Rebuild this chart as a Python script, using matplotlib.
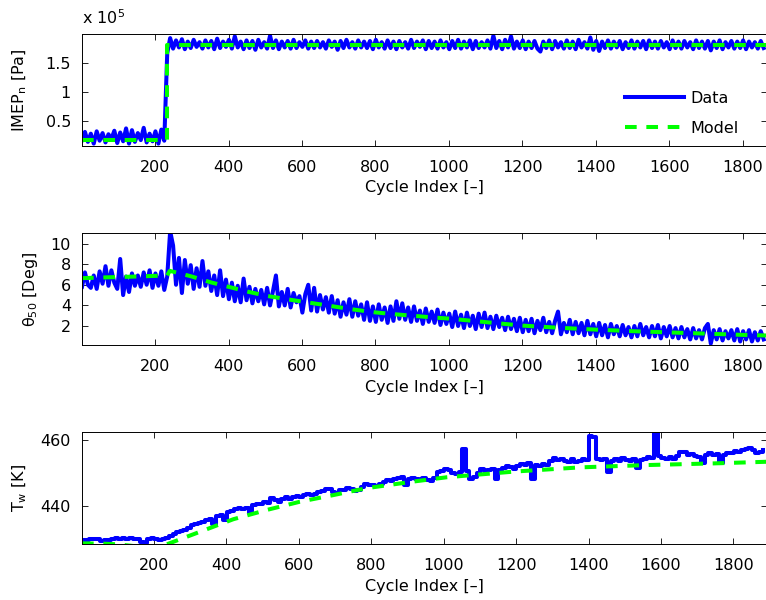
import matplotlib

matplotlib.use("Agg")
import matplotlib.pyplot as plt
import numpy as np
from matplotlib.ticker import FixedLocator, FuncFormatter

plt.rcParams["font.family"] = ["DejaVu Sans"]
plt.rcParams["mathtext.fontset"] = "dejavusans"
plt.rcParams["font.size"] = 11.5

# --- measured signals -------------------------------------------------------
# IMEP_n and theta_50 are logged every 8th cycle, starting at cycle 1
IMEP_STEP = 8
imep_data = [  # [1e5 Pa]
    0.18, 0.32, 0.15, 0.29, 0.12, 0.33, 0.17, 0.30, 0.14, 0.28, 0.20, 0.34, 0.13, 0.31, 0.16,
    0.38, 0.12, 0.35, 0.15, 0.30, 0.18, 0.39, 0.14, 0.29, 0.16, 0.33, 0.12, 0.36, 0.17,
    1.66, 1.92, 1.74, 1.88, 1.76, 1.90, 1.73, 1.86, 1.75, 1.89, 1.77, 1.85, 1.74, 1.88, 1.76,
    1.87, 1.73, 1.91, 1.75, 1.86, 1.77, 1.89, 1.74, 1.95, 1.76,
    1.86, 1.73, 1.88, 1.75, 1.87, 1.72, 1.89, 1.76, 1.85, 1.74, 1.96, 1.75, 1.88, 1.73, 1.86,
    1.76, 1.87, 1.74, 1.89, 1.75, 1.85, 1.77, 1.88, 1.74, 1.86,
    1.75, 1.87, 1.76, 1.85, 1.74, 1.88, 1.77, 1.86, 1.72, 1.87, 1.75, 1.89, 1.76, 1.85, 1.74,
    1.88, 1.76, 1.86, 1.75, 1.87, 1.73, 1.89, 1.76, 1.85, 1.74,
    1.88, 1.75, 1.86, 1.73, 1.87, 1.76, 1.85, 1.74, 1.89, 1.75, 1.86, 1.77, 1.88, 1.73, 1.87,
    1.75, 1.86, 1.74, 1.88, 1.76, 1.85, 1.73, 1.87, 1.75, 1.89,
    1.74, 1.86, 1.76, 1.88, 1.73, 1.87, 1.75, 1.85, 1.76, 1.88, 1.74, 1.96, 1.75, 1.87, 1.73,
    1.89, 1.76, 1.95, 1.74, 1.86, 1.75, 1.88, 1.73, 1.86, 1.75,
    1.87, 1.74, 1.69, 1.86, 1.75, 1.88, 1.73, 1.87, 1.76, 1.85, 1.74, 1.88, 1.75, 1.86, 1.73,
    1.89, 1.76, 1.85, 1.74, 1.93, 1.72, 1.87, 1.70, 1.86, 1.75,
    1.88, 1.74, 1.86, 1.76, 1.87, 1.73, 1.85, 1.75, 1.88, 1.74, 1.86, 1.76, 1.87, 1.73, 1.88,
    1.75, 1.86, 1.74, 1.87, 1.76, 1.85, 1.73, 1.88, 1.75, 1.86,
    1.74, 1.87, 1.76, 1.85, 1.73, 1.88, 1.75, 1.86, 1.74, 1.87, 1.71, 1.86, 1.75, 1.88, 1.73,
    1.85, 1.76, 1.87, 1.74, 1.86, 1.75, 1.88, 1.73, 1.86, 1.76, 1.85, 1.74, 1.87, 1.75,
]

theta_data = [  # [deg]
    5.8, 7.2, 6.0, 5.7, 6.9, 5.6, 7.3, 6.1, 7.8, 5.9, 7.4, 6.2, 5.6, 8.5, 5.0, 6.8, 5.3, 7.1,
    5.9, 6.9, 5.8, 7.2, 6.0, 7.4, 5.7,
    7.1, 5.9, 7.3, 5.5, 6.8, 11.2, 9.8, 6.0, 8.6, 5.2, 8.4, 6.1, 7.9, 5.6, 7.6, 5.8, 8.3, 5.9,
    7.3, 5.4, 6.9, 5.0, 7.4, 4.9, 6.5,
    4.6, 6.2, 4.4, 5.9, 4.3, 6.6, 4.5, 5.8, 4.2, 5.6, 4.4, 5.5, 4.1, 5.7, 4.0, 5.4, 6.9, 3.9,
    5.3, 4.0, 5.6, 3.8, 5.2, 4.3, 4.9,
    3.3, 5.1, 6.0, 3.5, 5.7, 3.4, 5.0, 3.6, 4.8, 3.3, 4.9, 3.2, 4.5, 2.9, 4.3, 3.1, 4.6, 2.9,
    4.4, 3.0, 4.1, 2.6, 4.3, 2.5, 3.9,
    2.4, 4.1, 2.6, 3.8, 2.3, 3.9, 2.5, 4.4, 2.7, 4.2, 2.6, 3.8, 2.4, 3.9, 2.5, 3.5, 2.2, 3.7,
    2.4, 3.4, 2.3, 3.6, 2.1, 3.3, 2.2,
    3.2, 1.9, 3.4, 2.0, 3.1, 1.8, 3.3, 2.0, 3.0, 1.7, 3.2, 1.9, 3.3, 1.8, 2.9, 1.7, 3.0, 1.9,
    2.8, 1.6, 2.9, 1.7, 2.7, 1.5, 2.8,
    1.4, 2.6, 1.5, 2.7, 1.3, 2.5, 1.6, 2.8, 1.4, 2.4, 1.3, 2.5, 3.4, 1.2, 2.3, 1.4, 2.6, 1.2,
    2.4, 1.3, 2.3, 1.1, 2.5, 1.2, 2.2,
    1.0, 2.3, 1.1, 2.1, 0.9, 2.2, 1.2, 2.0, 1.0, 2.1, 1.1, 1.9, 0.9, 2.0, 1.0, 2.2, 1.1, 1.9,
    0.9, 2.0, 1.0, 2.1, 0.8, 1.9, 1.0,
    2.0, 0.9, 1.8, 0.8, 1.9, 0.9, 1.7, 0.7, 1.8, 0.8, 1.6, 0.7, 1.8, 2.2, 0.3, 1.6, 0.7, 1.7,
    0.6, 1.5, 0.8, 1.6, 0.6, 1.7, 0.5, 1.5, 0.7, 1.6, 0.5, 1.4, 0.6, 1.5, 0.7,
]

# wall temperature is logged every 10th cycle, held between samples
TW_STEP = 10
tw_data = [  # [K]
    429.8, 429.8, 430.0, 430.2, 430.0, 429.6, 429.7, 429.9, 430.1, 430.3,
    430.1, 430.4, 430.2, 430.3, 430.0, 430.1, 429.3, 428.9, 430.2, 430.5,
    430.2, 429.8, 430.0, 430.4, 431.0, 431.6, 432.3, 432.6, 432.8, 433.5,
    434.2, 434.6, 435.1, 435.4, 435.8, 436.3, 434.8, 437.0, 437.5, 435.9,
    438.2, 438.6, 439.3, 439.4, 439.2, 439.5, 438.0, 440.3, 440.8, 440.6,
    441.2, 441.0, 442.6, 441.8, 441.4, 442.3, 442.8, 442.2, 442.9, 443.2,
    442.8, 443.3, 443.6, 443.4, 443.8, 444.2, 444.6, 445.4, 445.1, 444.3,
    444.0, 444.8, 445.0, 445.6, 445.2, 444.5, 444.9, 445.8, 446.7, 446.4,
    446.5, 446.2, 446.8, 447.3, 448.0, 447.8, 448.2, 448.7, 448.9, 446.6,
    448.3, 448.5, 448.4, 448.1, 448.6, 447.9, 447.7, 448.6, 450.4, 450.8,
    451.3, 451.0, 450.2, 449.9, 450.3, 457.3, 450.6, 448.4, 448.9, 450.1,
    451.2, 450.8, 451.0, 451.3, 448.3, 451.0, 451.6, 452.2, 451.8, 451.3,
    452.2, 452.9, 452.5, 453.1, 448.3, 452.6, 452.3, 452.9, 452.6, 453.8,
    454.5, 454.0, 454.3, 453.6, 453.5, 454.2, 453.4, 453.8, 454.2, 454.0,
    461.3, 461.0, 454.4, 453.9, 454.3, 450.4, 453.8, 454.2, 453.6, 454.5,
    454.0, 453.8, 454.4, 451.6, 453.9, 454.3, 455.0, 454.6, 466.0, 455.3,
    454.6, 454.2, 454.8, 454.4, 455.2, 456.6, 456.4, 455.6, 455.9, 455.3,
    454.8, 453.0, 455.6, 456.0, 455.4, 455.8, 453.2, 455.5, 456.2, 456.0,
    456.9, 456.5, 457.1, 457.4, 457.6, 457.0, 456.3, 456.6, 457.0,
]

# --- model outputs ----------------------------------------------------------
imep_model_cycle = [1, 233, 233, 1866]
imep_model = [0.18, 0.18, 1.80, 1.80]  # [1e5 Pa]

theta_model_cycle = [1, 50, 100, 150, 200, 233, 240, 300, 350, 400, 450, 500, 550, 600, 650,
                     700, 750, 800, 850, 900, 950, 1000, 1100, 1200, 1300, 1400, 1500, 1600,
                     1700, 1800, 1866]
theta_model = [6.64, 6.70, 6.75, 6.80, 6.86, 6.90, 7.35, 6.80, 6.25, 5.80, 5.35, 4.95, 4.65,
               4.37, 4.10, 3.82, 3.55, 3.32, 3.15, 3.00, 2.85, 2.72, 2.38, 2.04, 1.83, 1.65,
               1.50, 1.38, 1.26, 1.14, 1.08]

tw_model_cycle = [1, 60, 100, 150, 190, 235, 327, 419, 511, 603, 695, 787, 916, 1008, 1192,
                  1377, 1561, 1745, 1893]
tw_model = [428.8, 428.7, 428.5, 427.9, 427.7, 428.5, 432.3, 436.1, 438.9, 441.4, 443.4,
            445.5, 447.5, 448.8, 450.5, 451.8, 452.5, 453.0, 453.5]

XTICKS = [200, 400, 600, 800, 1000, 1200, 1400, 1600, 1800]

DATA_STYLE = dict(color=(0, 0, 1), linewidth=2.9, solid_joinstyle="round")
MODEL_STYLE = dict(color=(0, 1, 0), linewidth=2.9, linestyle=(0, (2.9, 2.4)))


def style_axes(ax):
    ax.tick_params(direction="in", top=True, right=True, length=4.3, width=0.6,
                   labelsize=11.5, pad=10)
    for side in ax.spines.values():
        side.set_linewidth(0.7)
    ax.xaxis.set_major_locator(FixedLocator(XTICKS))
    ax.set_xlabel("Cycle Index [\u2013]", fontsize=11.5, labelpad=4)


fig = plt.figure(figsize=(7.66, 6.0), dpi=100)
left, width = 82 / 766, 685 / 766
ax1 = fig.add_axes([left, 0.7567, width, 0.1867])
ax2 = fig.add_axes([left, 0.4245, width, 0.1877])
ax3 = fig.add_axes([left, 0.0928, width, 0.1877])

# IMEP_n
cyc = np.arange(len(imep_data)) * IMEP_STEP + 1
ax1.plot(cyc, np.array(imep_data) * 1e5, label="Data", **DATA_STYLE)
ax1.plot(imep_model_cycle, np.array(imep_model) * 1e5, label="Model", **MODEL_STYLE)
ax1.set_xlim(1, 1866)
ax1.set_ylim(0.08e5, 1.99e5)
ax1.yaxis.set_major_locator(FixedLocator([0.5e5, 1.0e5, 1.5e5]))
ax1.yaxis.set_major_formatter(FuncFormatter(lambda v, _: f"{v / 1e5:g}"))
ax1.text(0.0, 1.06, "x 10$^5$", transform=ax1.transAxes, fontsize=11.5, ha="left", va="bottom")
ax1.set_ylabel("IMEP$_\\mathregular{n}$ [Pa]", fontsize=11.5, ha="center", va="center",
               rotation_mode="default")
ax1.yaxis.set_label_coords(-0.0905, 0.5)
ax1.legend(loc="center left", bbox_to_anchor=(0.781, 0.29), frameon=False, borderpad=0,
           handlelength=3.7, handletextpad=0.37, labelspacing=0.95, fontsize=11.5)
style_axes(ax1)
ax1.tick_params(axis="y", pad=8)

# theta_50
cyc = np.arange(len(theta_data)) * IMEP_STEP + 1
ax2.plot(cyc, theta_data, **DATA_STYLE)
ax2.plot(theta_model_cycle, theta_model, **MODEL_STYLE)
ax2.set_xlim(1, 1866)
ax2.set_ylim(0.13, 11.05)
ax2.yaxis.set_major_locator(FixedLocator([2, 4, 6, 8, 10]))
ax2.set_ylabel("\u03b8$_\\mathregular{50}$ [Deg]", fontsize=11.5, ha="center", va="center",
               rotation_mode="default")
ax2.yaxis.set_label_coords(-0.0752, 0.5)
style_axes(ax2)
ax2.tick_params(axis="y", pad=8)

# wall temperature
cyc = np.arange(len(tw_data)) * TW_STEP + 1
ax3.plot(cyc, tw_data, drawstyle="steps-post", **DATA_STYLE)
ax3.plot(tw_model_cycle, tw_model, **MODEL_STYLE)
ax3.set_xlim(1, 1893)
ax3.set_ylim(428.5, 462.6)
ax3.yaxis.set_major_locator(FixedLocator([440, 460]))
ax3.set_ylabel("T$_\\mathregular{w}$ [K]", fontsize=11.5, ha="center", va="center",
               rotation_mode="default")
ax3.yaxis.set_label_coords(-0.0912, 0.5)
style_axes(ax3)
ax3.tick_params(axis="y", pad=8)

fig.savefig("out.png", dpi=100)
